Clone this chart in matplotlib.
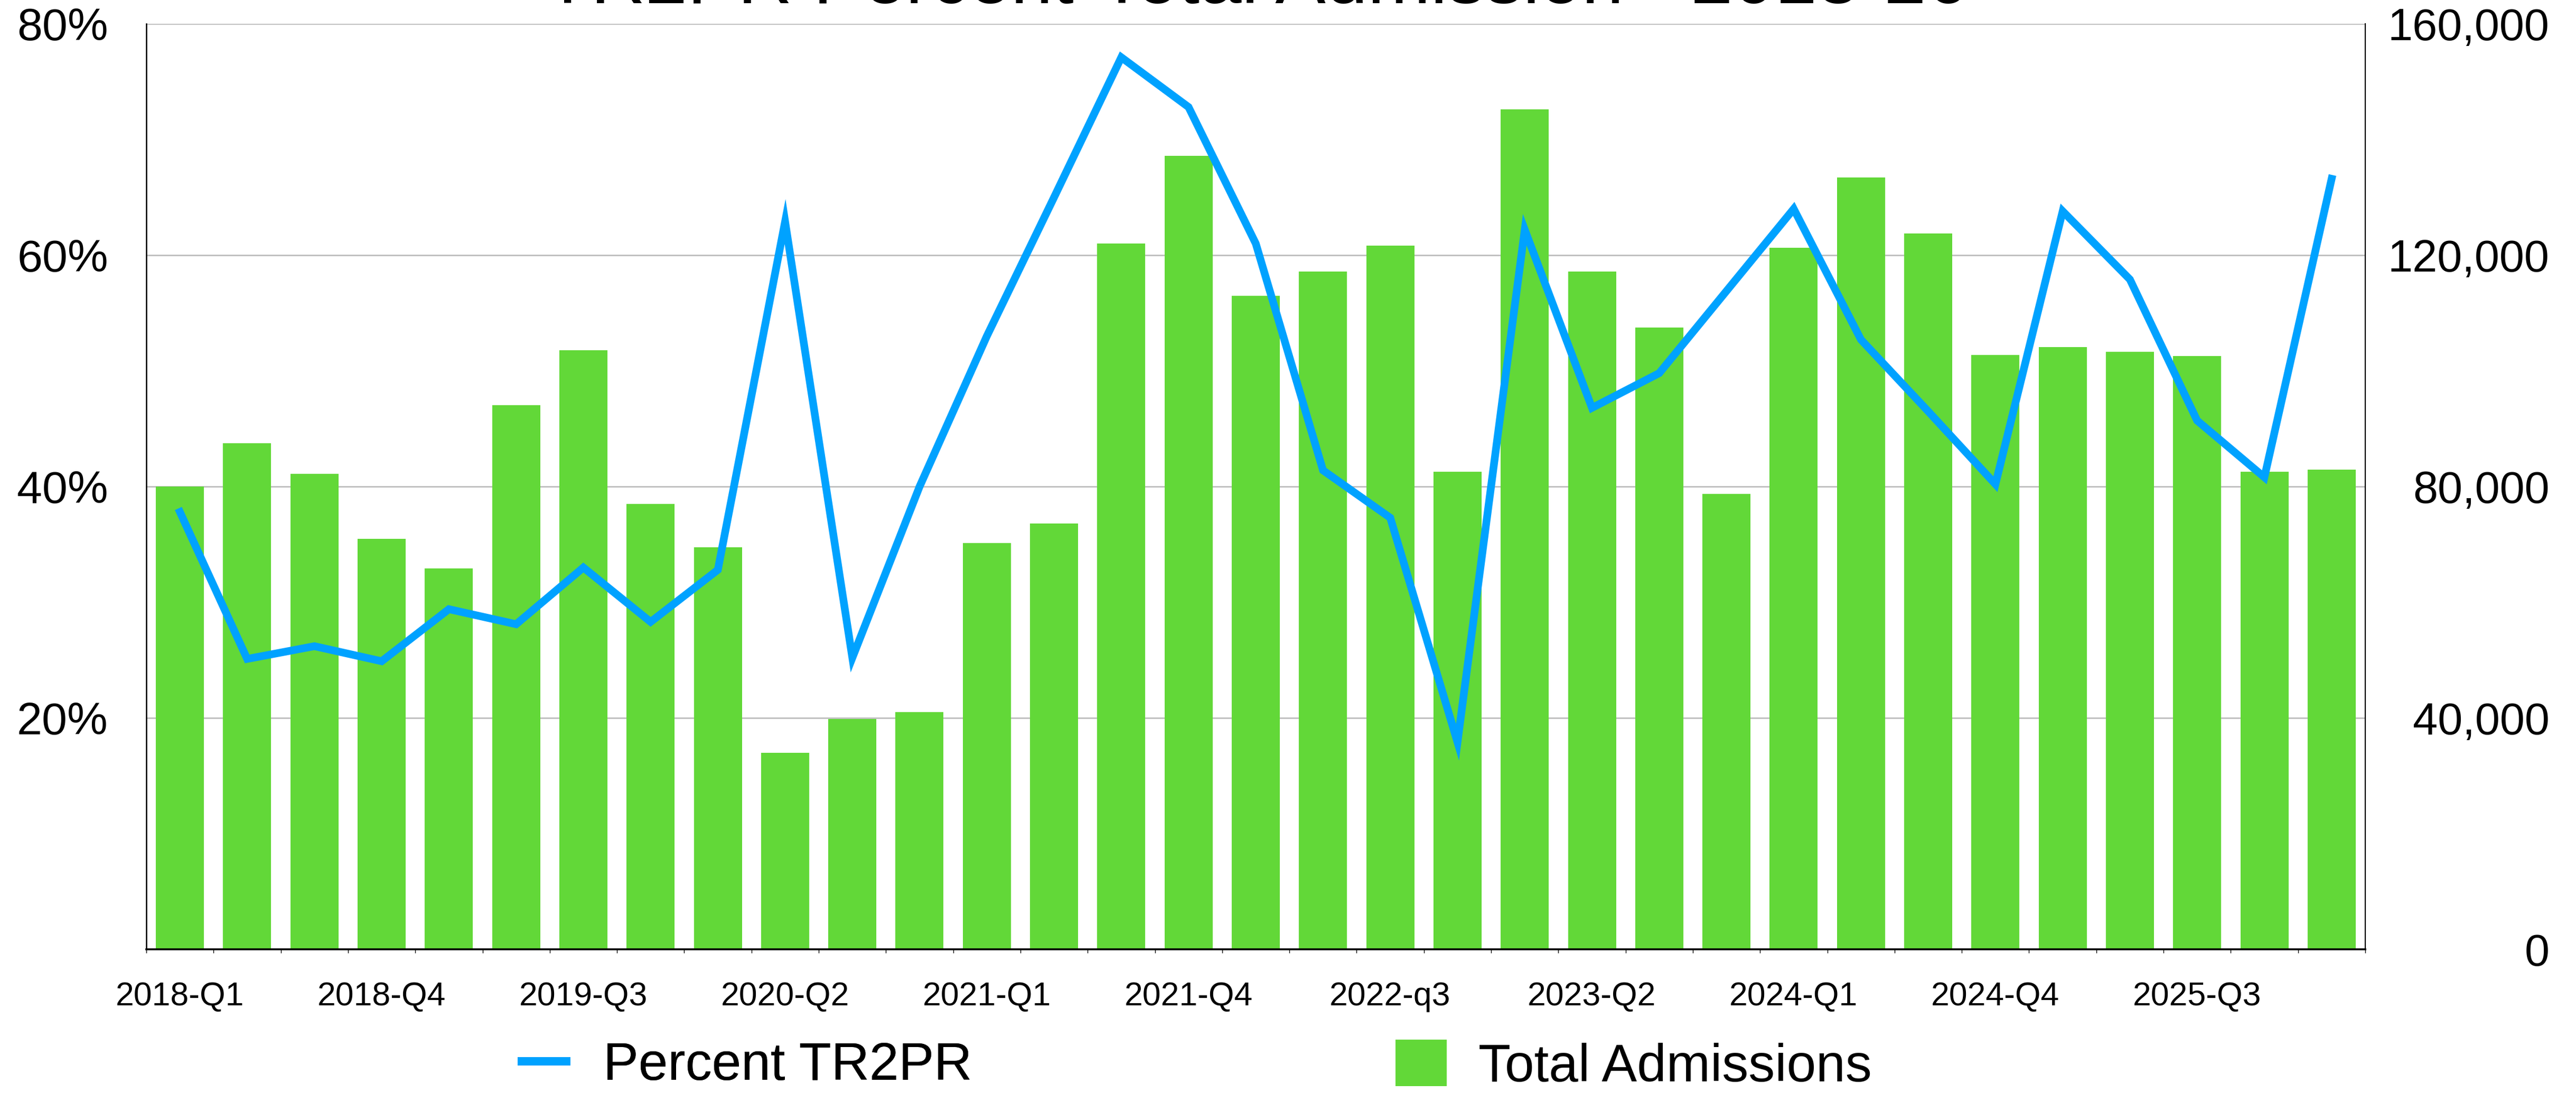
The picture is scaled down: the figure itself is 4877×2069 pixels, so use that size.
import matplotlib
matplotlib.use("Agg")
import matplotlib.pyplot as plt
from matplotlib.lines import Line2D
from matplotlib.patches import Patch
from matplotlib.ticker import FuncFormatter, FixedLocator
import numpy as np

plt.rcParams['font.family'] = ['Liberation Sans', 'DejaVu Sans']

# ---------------- data ----------------
quarters = [
    "2018-Q1", "2018-Q2", "2018-Q3", "2018-Q4",
    "2019-Q1", "2019-Q2", "2019-Q3", "2019-Q4",
    "2020-Q1", "2020-Q2", "2020-Q3", "2020-Q4",
    "2021-Q1", "2021-Q2", "2021-Q3", "2021-Q4",
    "2022-Q1", "2022-Q2", "2022-q3", "2022-Q4",
    "2023-Q1", "2023-Q2", "2023-Q3", "2023-Q4",
    "2024-Q1", "2024-Q2", "2024-Q3", "2024-Q4",
    "2025-Q1", "2025-Q2", "2025-Q3", "2025-Q4",
    "2026-Q1",
]
total_admissions = [
    80000, 87500, 82200, 71000,
    65800, 94100, 103600, 77000,
    69500, 34000, 39800, 41000,
    70200, 73600, 122000, 137200,
    113000, 117200, 121600, 82600,
    145200, 117200, 107500, 78700,
    121300, 133400, 123700, 102700,
    104100, 103300, 102600, 82600,
    82900,
]
percent_tr2pr = [
    37.8, 25.1, 26.2, 24.9,
    29.4, 28.1, 33.0, 28.3,
    32.8, 62.9, 25.2, 40.0,
    53.0, 65.0, 77.1, 72.8,
    61.0, 41.4, 37.3, 17.9,
    62.2, 46.8, 49.8, 56.9,
    64.0, 52.7, 46.5, 40.2,
    63.8, 57.9, 45.7, 40.8,
    66.6,
]
label_every = 3
title = "TR2PR Percent-Total Admission - 2018-26"
line_name = "Percent TR2PR"
bar_name = "Total Admissions"

# ---------------- styling ----------------
W, H = 4877, 2069
DPI = 100
GREEN = "#62d838"
BLUE = "#00a2ff"
GRID = "#bdbdbd"

fig = plt.figure(figsize=(W / DPI, H / DPI), dpi=DPI)
left_px, right_px, top_px, bot_px = 277, 4478, 45, 1797
ax = fig.add_axes([left_px / W, 1 - bot_px / H, (right_px - left_px) / W, (bot_px - top_px) / H])
ax2 = ax.twinx()

x = np.arange(len(quarters))

# bars (count axis, right side)
ax.bar(x, total_admissions, width=0.715, color=GREEN, zorder=2)
ax.set_ylim(0, 160000)
ax.set_xlim(-0.5, len(quarters) - 0.5)
ax.yaxis.tick_right()
ax.yaxis.set_label_position("right")
ax.set_yticks([0, 40000, 80000, 120000, 160000])
ax.yaxis.set_major_formatter(FuncFormatter(lambda v, p: f"{int(v):,}"))
ax.tick_params(axis='y', length=0, pad=251, labelsize=61)
for lab in ax.get_yticklabels():
    lab.set_horizontalalignment('right')
ax.set_axisbelow(True)
ax.grid(axis='y', color=GRID, linewidth=2.0, zorder=0)

# x ticks: labels at bar centres, tick marks at slot boundaries
ax.set_xticks(x[::label_every])
ax.set_xticklabels([quarters[i] for i in x[::label_every]])
ax.tick_params(axis='x', which='major', length=0, pad=43, labelsize=45)
ax.xaxis.set_minor_locator(FixedLocator(np.arange(-0.5, len(quarters), 1.0)))
ax.tick_params(axis='x', which='minor', length=5, width=1.0, color='black', direction='out')

# line (percent axis, left side)
ax2.plot(x, percent_tr2pr, color=BLUE, linewidth=10.5, solid_joinstyle='miter', zorder=3)
ax2.set_ylim(0, 80)
ax2.yaxis.tick_left()
ax2.set_yticks([20, 40, 60, 80])
ax2.yaxis.set_major_formatter(FuncFormatter(lambda v, p: f"{int(v)}%"))
ax2.tick_params(axis='y', length=0, pad=52, labelsize=62)

# spines
for s in ax2.spines.values():
    s.set_visible(False)
ax.spines['top'].set_visible(False)
ax.spines['left'].set_linewidth(1.8)
ax.spines['right'].set_linewidth(1.5)
ax.spines['bottom'].set_linewidth(2.6)
for s in ax.spines.values():
    s.set_color('black')

# title (mostly clipped at top as in the reference)
fig.text(2379 / W, 1 - 6 / H, title, ha='center', va='baseline', fontsize=103)

# legends
fs = 72
leg1 = fig.legend(handles=[Line2D([0], [0], color=BLUE, linewidth=11.5, solid_capstyle='butt')],
                  labels=[line_name], loc='center left',
                  bbox_to_anchor=(980 / W, 1 - 2018 / H), frameon=False, fontsize=fs,
                  borderpad=0, borderaxespad=0, handlelength=1.0, handletextpad=0.62)
leg2 = fig.legend(handles=[Patch(facecolor=GREEN, edgecolor='none')],
                  labels=[bar_name], loc='center left',
                  bbox_to_anchor=(2642 / W, 1 - 2018 / H), frameon=False, fontsize=fs,
                  borderpad=0, borderaxespad=0, handlelength=0.97, handleheight=0.97,
                  handletextpad=0.6)
fig.add_artist(leg1)

fig.savefig("out.png", dpi=DPI)
